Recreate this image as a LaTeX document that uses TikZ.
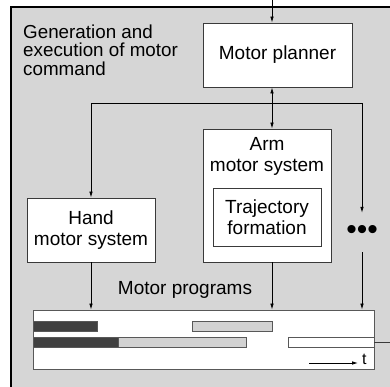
\documentclass[tikz,border=0pt]{standalone}
\usepackage{fontspec}
\setmainfont{Liberation Sans}
\usetikzlibrary{arrows.meta}
\definecolor{panel}{HTML}{D6D6D6}
\definecolor{edge}{HTML}{3A3A3A}
\definecolor{darkbar}{HTML}{404040}
\definecolor{lightbar}{HTML}{D2D2D2}
\tikzset{>={Latex[length=6pt,width=3.6pt]},
  box/.style={draw=edge, fill=white, line width=0.9pt, align=center, inner sep=0pt},
  link/.style={line width=0.8pt, ->},
  bar/.style={draw=edge!85, line width=0.8pt}}

\begin{document}
\begin{tikzpicture}[x=1pt,y=-1pt,font=\fontsize{19}{20.5}\selectfont]
\useasboundingbox (0,0) rectangle (390,387);
\fill[panel] (11,7) rectangle (390,387);
\draw[line width=1.2pt] (11,387) -- (11,7) -- (390,7);
\node[anchor=base west, align=left, inner sep=0pt, font=\fontsize{18.8}{18.7}\selectfont] (title) at (23,75.5) {Generation and\\execution of motor\\command};
% boxes
\node[box, minimum width=149pt, minimum height=64pt] (planner) at (277.5,55) {Motor planner};
\node[box, minimum width=128pt, minimum height=133pt] (arm) at (267,195.5) {};
\node[anchor=north, align=center, inner sep=0pt] (armlabel) at ([yshift=-9pt]arm.north) {Arm\\motor system};
\node[box, minimum width=108pt, minimum height=58pt] (traj) at (267,217) {Trajectory\\formation};
\node[box, minimum width=128pt, minimum height=64pt] (hand) at (91,230) {Hand\\motor system};
\node[inner sep=0pt, minimum height=39pt, font=\fontsize{30}{30}\selectfont] (dots) at (362,232.5) {\textbullet\textbullet\textbullet};
% motor programs
\node[anchor=base, inner sep=0pt] (progtitle) at (185,294) {Motor programs};
\node[draw=edge!85, fill=white, line width=0.9pt, minimum width=341pt, minimum height=59pt, inner sep=0pt] (progs) at (203.5,339.5) {};
\foreach \xa/\xb/\ya/\col in {33/97/321/darkbar, 192/272/321/lightbar, 118/246/337/lightbar, 33/118/337/darkbar}
  \draw[bar, fill=\col] (\xa,\ya) rectangle (\xb,\ya+10);
\node[bar, fill=white, minimum width=86pt, minimum height=10pt, inner sep=0pt] (lastbar) at (331,342) {};
\coordinate (out) at (390,342);
\draw[line width=0.8pt, edge] (lastbar.east) -- (out);
\node[anchor=base west, inner sep=0pt, font=\fontsize{16}{16}\selectfont] (t) at (362,364) {t};
\coordinate (tstart) at (309,363);
\draw[link] (tstart) -- ([xshift=-4pt]tstart -| t.west);
% connectors
\coordinate (feed) at (272,0);
\coordinate (split) at (272,103);
\draw[link] (feed) -- (feed |- planner.north);
\draw[link, <->] (split |- planner.south) -- (split |- arm.north);
\draw[link] (split) -| (hand.north);
\draw[link] (split) -| (dots.north);
\draw[link] (hand.south) -- (hand.south |- progs.north);
\draw[link] (split |- arm.south) -- (split |- progs.north);
\draw[link] (dots.south) -- (dots.south |- progs.north);
\end{tikzpicture}
\end{document}
